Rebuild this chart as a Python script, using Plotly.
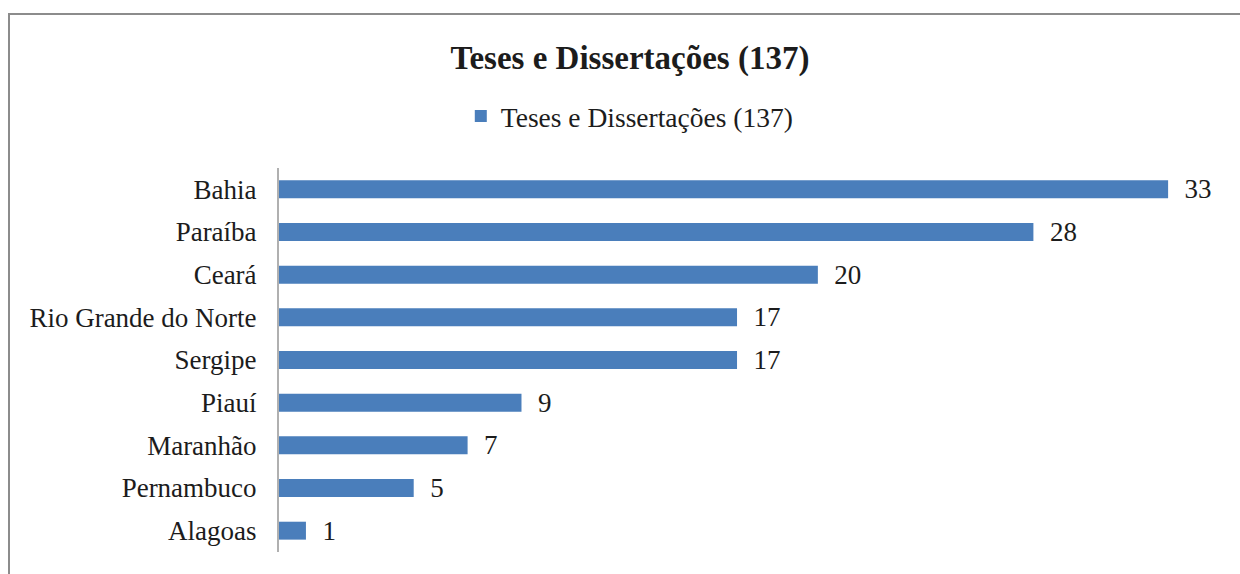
import plotly.graph_objects as go

estados = ["Bahia", "Paraíba", "Ceará", "Rio Grande do Norte", "Sergipe",
           "Piauí", "Maranhão", "Pernambuco", "Alagoas"]
valores = [33, 28, 20, 17, 17, 9, 7, 5, 1]
serie_nome = "Teses e Dissertações (137)"
titulo = "Teses e Dissertações (137)"

FONT = "Liberation Serif, Times New Roman, serif"
TXT = "#1c1c1c"

fig = go.Figure()
fig.add_trace(go.Bar(
    y=estados, x=valores, orientation="h", name=serie_nome,
    marker=dict(color="#4A7EBB", line=dict(width=0)),
    width=0.42,
    text=valores, texttemplate="\u00a0\u00a0%{x}", textposition="outside",
    textfont=dict(family=FONT, size=27, color=TXT),
    constraintext="none",
    cliponaxis=False,
    showlegend=True,
))

fig.update_layout(
    width=1240, height=574,
    paper_bgcolor="white", plot_bgcolor="white",
    margin=dict(l=279, r=18, t=168, b=22),
    title=dict(text="<b>" + titulo + "</b>", x=0.508, xref="container", xanchor="center",
               y=1 - 57 / 574, yref="container", yanchor="middle",
               font=dict(family=FONT, size=33, color=TXT)),
    legend=dict(orientation="h", x=0.372, xanchor="center", y=1.135, yanchor="middle",
                font=dict(family=FONT, size=27.5, color=TXT), bgcolor="rgba(0,0,0,0)"),
    xaxis=dict(range=[0, 35], visible=False, showgrid=False, zeroline=False),
    yaxis=dict(autorange="reversed", showline=True, linecolor="#b0b0b0", linewidth=2,
               ticks="outside", ticklen=15, tickcolor="rgba(0,0,0,0)",
               tickfont=dict(family=FONT, size=27, color=TXT),
               showgrid=False, zeroline=False),
    shapes=[dict(type="rect", xref="paper", yref="paper",
                 x0=(9 - 279) / 943, x1=(1260 - 279) / 943,
                 y0=(552 - 600) / 384, y1=(552 - 14) / 384,
                 line=dict(color="#8c8c8c", width=2), fillcolor="rgba(0,0,0,0)",
                 layer="below")],
    bargap=0.58,
)

fig.write_html("out.html", config={"displayModeBar": False},
               post_script="document.body.style.margin='0';document.body.style.overflow='hidden';")
